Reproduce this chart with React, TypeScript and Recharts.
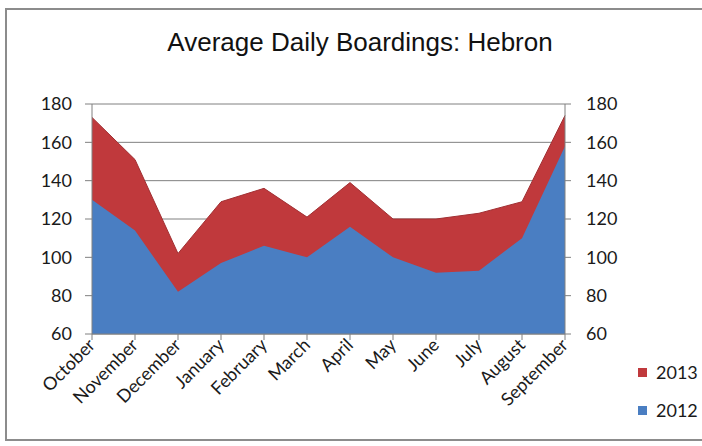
import { AreaChart, Area, XAxis, YAxis, CartesianGrid } from "recharts"

const months = [
  "October", "November", "December", "January", "February", "March",
  "April", "May", "June", "July", "August", "September",
]
const boardings2013 = [173, 151, 102, 129, 136, 121, 139, 120, 120, 123, 129, 174]
const boardings2012 = [130, 114, 82, 97, 106, 100, 116, 100, 92, 93, 110, 158]
const yTicks = [60, 80, 100, 120, 140, 160, 180]

const data = months.map((m, i) => ({
  month: m,
  y2013: boardings2013[i],
  y2012: boardings2012[i],
}))

const RED = "#C0393C"
const BLUE = "#4A7EC2"
const AXIS = "#808080"
const tickFont = { fontFamily: "Lato", fontSize: 18, fill: "#1a1a1a" }

function MonthTick({ x, y, payload }: any) {
  return (
    <text
      x={x}
      y={y}
      dy={6}
      textAnchor="end"
      transform={`rotate(-45 ${x} ${y})`}
      {...tickFont}
    >
      {payload.value}
    </text>
  )
}

function LegendBox() {
  const items = [
    { label: "2013", color: RED },
    { label: "2012", color: BLUE },
  ]
  return (
    <div style={{ fontFamily: "Lato", fontSize: 18, color: "#1a1a1a" }}>
      {items.map((it) => (
        <div key={it.label} style={{ display: "flex", alignItems: "center", height: 38 }}>
          <span style={{ width: 9, height: 9, background: it.color, marginRight: 9 }} />
          {it.label}
        </div>
      ))}
    </div>
  )
}

export default function App() {
  return (
    <div style={{ position: "absolute", left: 0, top: 0, width: 702, height: 446, background: "#fff", overflow: "hidden" }}>
      <div
        style={{
          position: "absolute", left: 5, top: 8, width: 710, height: 433,
          border: "2px solid #8c8c8c", boxSizing: "border-box",
        }}
      />
      <div
        style={{
          position: "absolute", left: 0, top: 27, width: 720, textAlign: "center",
          fontFamily: "'Liberation Sans', Arial", fontSize: 26, color: "#111",
        }}
      >
        Average Daily Boardings: Hebron
      </div>
      <div style={{ position: "absolute", left: 0, top: 0 }}>
        <AreaChart
          width={702}
          height={446}
          data={data}
          margin={{ top: 104, right: 77, left: 0, bottom: 32 }}
        >
          <CartesianGrid horizontal vertical={false} stroke={AXIS} strokeOpacity={1} yAxisId="left" />
          <XAxis
            dataKey="month"
            tick={<MonthTick />}
            tickLine={{ stroke: AXIS }}
            axisLine={{ stroke: AXIS }}
            tickSize={6}
            height={80}
            interval={0}
          />
          <YAxis
            yAxisId="left"
            domain={[60, 180]}
            ticks={yTicks}
            interval={0}
            width={92}
            tick={tickFont}
            tickLine={{ stroke: AXIS }}
            axisLine={{ stroke: AXIS }}
            tickSize={7}
            tickMargin={13}
          />
          <YAxis
            yAxisId="right"
            orientation="right"
            domain={[60, 180]}
            ticks={yTicks}
            interval={0}
            width={60}
            tick={{ ...tickFont, textAnchor: "start" }}
            tickLine={{ stroke: AXIS }}
            axisLine={{ stroke: AXIS }}
            tickSize={6}
            tickMargin={15}
          />
          <Area
            yAxisId="left"
            type="linear"
            dataKey="y2013"
            name="2013"
            stroke="#A13033"
            strokeWidth={1}
            fill={RED}
            fillOpacity={1}
            isAnimationActive={false}
          />
          <Area
            yAxisId="right"
            type="linear"
            dataKey="y2012"
            name="2012"
            stroke="none"
            fill={BLUE}
            fillOpacity={1}
            isAnimationActive={false}
          />
        </AreaChart>
      </div>
      <div style={{ position: "absolute", left: 638, top: 353 }}>
        <LegendBox />
      </div>
    </div>
  )
}
